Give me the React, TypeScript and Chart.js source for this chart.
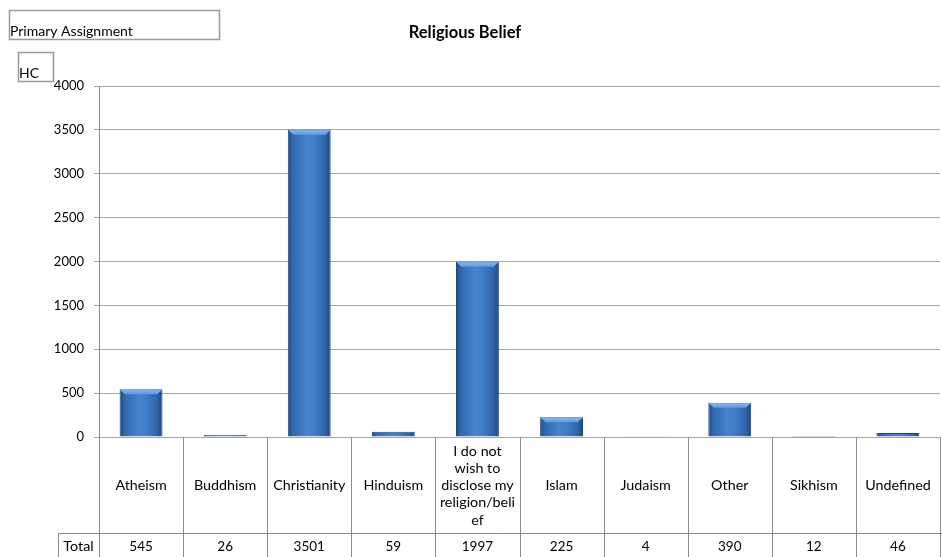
import React, { useEffect, useRef } from "react";
import { Chart, registerables } from "chart.js";

Chart.register(...registerables);

const chartTitle = "Religious Belief";
const filterLabel = "Primary Assignment";
const measureLabel = "HC";
const totalLabel = "Total";
const categories: string[][] = [
  ["Atheism"],
  ["Buddhism"],
  ["Christianity"],
  ["Hinduism"],
  ["I do not", "wish to", "disclose my", "religion/beli", "ef"],
  ["Islam"],
  ["Judaism"],
  ["Other"],
  ["Sikhism"],
  ["Undefined"],
];
const totals: number[] = [545, 26, 3501, 59, 1997, 225, 4, 390, 12, 46];
const yTicks: number[] = [0, 500, 1000, 1500, 2000, 2500, 3000, 3500, 4000];

const FONT = "Lato, 'Open Sans', sans-serif";
const BAR_PCT = 0.51;

const tablePlugin = {
  id: "tablePlugin",
  afterDatasetsDraw(chart: any) {
    const ctx = chart.ctx;
    const meta = chart.getDatasetMeta(0);
    ctx.save();
    meta.data.forEach((el: any) => {
      const { x, y, base, width } = el.getProps(["x", "y", "base", "width"], true);
      const h = base - y;
      if (h < 6) return;
      const l = x - width / 2 + 0.5;
      const r = x + width / 2 - 0.5;
      const b = 5;
      ctx.beginPath();
      ctx.moveTo(l, y + 0.5);
      ctx.lineTo(r, y + 0.5);
      ctx.lineTo(r - b, y + b);
      ctx.lineTo(l + b, y + b);
      ctx.closePath();
      const g = ctx.createLinearGradient(0, y, 0, y + b);
      g.addColorStop(0, "#8dbbf0");
      g.addColorStop(1, "#5f97de");
      ctx.fillStyle = g;
      ctx.fill();
    });
    ctx.restore();
  },
  afterDraw(chart: any) {
    const ctx = chart.ctx;
    const area = chart.chartArea;
    const xs = chart.scales.x;
    const n = categories.length;
    const cw = (area.right - area.left) / n;
    const top = area.bottom;
    const rowY = 533;
    const bottom = 557;
    ctx.save();
    ctx.strokeStyle = "#8c8c8c";
    ctx.lineWidth = 1;
    for (let i = 0; i <= n; i++) {
      const x = Math.round(area.left + i * cw) + 0.5;
      ctx.beginPath();
      ctx.moveTo(x, top);
      ctx.lineTo(x, bottom);
      ctx.stroke();
    }
    ctx.beginPath();
    ctx.moveTo(58.5, rowY + 0.5);
    ctx.lineTo(942, rowY + 0.5);
    ctx.moveTo(58.5, rowY + 0.5);
    ctx.lineTo(58.5, bottom);
    ctx.stroke();

    ctx.fillStyle = "#000";
    ctx.font = `14.3px ${FONT}`;
    ctx.textAlign = "center";
    ctx.textBaseline = "middle";
    const lh = 17.2;
    const midY = (top + rowY) / 2 + 0.5;
    categories.forEach((lines, i) => {
      const cx = xs.getPixelForValue(i);
      const y0 = midY - ((lines.length - 1) * lh) / 2;
      lines.forEach((ln, j) => ctx.fillText(ln, cx, y0 + j * lh));
    });
    ctx.font = `13.5px ${FONT}`;
    categories.forEach((_, i) => {
      const cx = xs.getPixelForValue(i);
      ctx.fillText(String(totals[i]), cx, 547);
    });
    ctx.font = `14.3px ${FONT}`;
    ctx.fillText(totalLabel, (58 + area.left) / 2, 546);

    ctx.font = `bold 16.5px ${FONT}`;
    ctx.fillText(chartTitle, 465, 33);

    ctx.strokeStyle = "#9a9a9a";
    ctx.lineWidth = 1.5;
    ctx.strokeRect(9.5, 10.5, 210, 29);
    ctx.strokeRect(18.5, 52.5, 35, 29);
    ctx.font = `14px ${FONT}`;
    ctx.textAlign = "left";
    ctx.textBaseline = "alphabetic";
    ctx.fillText(filterLabel, 10, 36);
    ctx.fillText(measureLabel, 19, 78);
    ctx.restore();
  },
};

export default function App() {
  const ref = useRef<HTMLCanvasElement>(null);
  useEffect(() => {
    if (!ref.current) return;
    const chart = new Chart(ref.current, {
      type: "bar",
      data: {
        labels: categories.map((c) => c.join(" ")),
        datasets: [
          {
            data: totals,
            backgroundColor: (c: any) => {
              const ch = c.chart;
              const area = ch.chartArea;
              const xs = ch.scales.x;
              if (!area || !xs) return "#3f7ccb";
              const cx = xs.getPixelForValue(c.dataIndex);
              const w = ((area.right - area.left) / categories.length) * BAR_PCT;
              const g = ch.ctx.createLinearGradient(cx - w / 2, 0, cx + w / 2, 0);
              g.addColorStop(0, "#21497f");
              g.addColorStop(0.12, "#3269b0");
              g.addColorStop(0.45, "#4682d0");
              g.addColorStop(0.6, "#437ecb");
              g.addColorStop(0.88, "#2f63a8");
              g.addColorStop(1, "#1e437a");
              return g;
            },
            borderColor: "#1f477f",
            borderWidth: 1,
            barPercentage: BAR_PCT,
            categoryPercentage: 1,
          },
        ],
      },
      options: {
        responsive: false,
        animation: false,
        devicePixelRatio: 1,
        layout: { padding: { left: 0, top: 86, right: 2, bottom: 120 } },
        plugins: {
          legend: { display: false },
          title: { display: false },
          tooltip: { enabled: false },
        },
        scales: {
          x: { display: false },
          y: {
            min: 0,
            max: 4000,
            afterFit: (s: any) => {
              s.width = 99;
            },
            afterBuildTicks: (s: any) => {
              s.ticks = yTicks.map((v) => ({ value: v }));
            },
            ticks: {
              color: "#000",
              font: { family: FONT, size: 13 },
              padding: 10,
              callback: (v: any) => String(v),
            },
            grid: {
              color: "#a6a6a6",
              lineWidth: 1,
              tickLength: 5,
              drawTicks: true,
            },
            border: { display: true, color: "#8c8c8c", width: 1 },
          },
        },
      },
      plugins: [tablePlugin],
    });
    return () => chart.destroy();
  }, []);
  return (
    <div style={{ position: "absolute", left: 0, top: 0, width: 942, height: 557, background: "#fff" }}>
      <canvas ref={ref} width={942} height={557} style={{ display: "block" }} />
    </div>
  );
}
